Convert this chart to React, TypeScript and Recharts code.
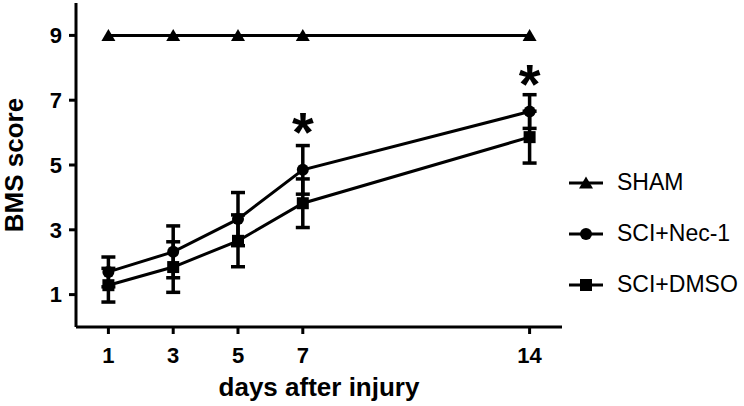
import { LineChart, Line, XAxis, YAxis, ErrorBar, Legend } from "recharts";

const days = [1, 3, 5, 7, 14];
const shamScores = [9, 9, 9, 9, 9];
const necScores = [1.7, 2.32, 3.33, 4.85, 6.65];
const necErrors = [0.46, 0.8, 0.82, 0.75, 0.52];
const dmsoScores = [1.29, 1.85, 2.66, 3.82, 5.86];
const dmsoErrors = [0.52, 0.78, 0.8, 0.75, 0.8];
// significance marks (* above the SCI groups)
const starLevels: (number | null)[] = [null, null, null, 6.42, 7.92];

const xTicks = [1, 3, 5, 7, 14];
const yTicks = [1, 3, 5, 7, 9];
const legendOrder = ["SHAM", "SCI+Nec-1", "SCI+DMSO"];

const FONT = "'Liberation Sans', Arial, sans-serif";

const data = days.map((day, i) => ({
  day,
  sham: shamScores[i],
  nec: necScores[i],
  necErr: necErrors[i],
  dmso: dmsoScores[i],
  dmsoErr: dmsoErrors[i],
  star: starLevels[i],
}));

function marker(kind: string, cx: number, cy: number, key?: string) {
  if (kind === "sham") {
    return (
      <polygon
        key={key}
        points={`${cx},${cy - 6.5} ${cx - 7},${cy + 5.5} ${cx + 7},${cy + 5.5}`}
        fill="#000"
      />
    );
  }
  if (kind === "nec") {
    return <circle key={key} cx={cx} cy={cy} r={6} fill="#000" />;
  }
  return <rect key={key} x={cx - 6} y={cy - 6} width={12} height={12} fill="#000" />;
}

const makeDot = (kind: string) => (props: any) => {
  const { cx, cy, index } = props;
  if (cx == null || cy == null) return <g key={`${kind}-${index}`} />;
  return marker(kind, cx, cy, `${kind}-${index}`);
};

const StarDot = (props: any) => {
  const { cx, cy, value, index } = props;
  if (value == null || cy == null) return <g key={`star-${index}`} />;
  const fs = 56;
  return (
    <text
      key={`star-${index}`}
      x={cx}
      y={cy + fs * 0.58}
      textAnchor="middle"
      fontSize={fs}
      fontWeight="bold"
      fontFamily={FONT}
      fill="#000"
    >
      *
    </text>
  );
};

function LegendContent(props: any) {
  const items = (props.payload || [])
    .filter((p: any) => p.type !== "none")
    .sort((a: any, b: any) => legendOrder.indexOf(a.value) - legendOrder.indexOf(b.value));
  return (
    <div style={{ width: 175 }}>
      {items.map((entry: any) => (
        <div
          key={entry.value}
          style={{ display: "flex", alignItems: "center", height: 51, width: 175 }}
        >
          <svg width={34} height={14} style={{ flexShrink: 0, display: "block" }}>
            <line x1={0} x2={34} y1={7} y2={7} stroke="#000" strokeWidth={3} />
            {marker(entry.dataKey, 17, 7)}
          </svg>
          <span
            style={{
              marginLeft: 14,
              fontSize: 23,
              fontFamily: FONT,
              color: "#000",
              whiteSpace: "nowrap",
            }}
          >
            {entry.value}
          </span>
        </div>
      ))}
    </div>
  );
}

const tickStyle = { fill: "#000", fontSize: 22, fontWeight: "bold", fontFamily: FONT };
const axisStroke = { stroke: "#000", strokeWidth: 3 };

export default function App() {
  return (
    <div style={{ position: "absolute", left: 0, top: 0, background: "#fff" }}>
      <LineChart
        width={744}
        height={406}
        data={data}
        margin={{ top: 3, right: 182, bottom: 0, left: 0 }}
      >
        <XAxis
          dataKey="day"
          type="number"
          domain={[0, 15]}
          ticks={xTicks}
          height={79}
          tick={tickStyle}
          tickLine={axisStroke}
          axisLine={axisStroke}
          tickSize={7}
          tickMargin={13}
          label={{
            value: "days after injury",
            position: "insideBottom",
            offset: 10,
            fontSize: 26,
            fontWeight: "bold",
            fontFamily: FONT,
            fill: "#000",
          }}
        />
        <YAxis
          type="number"
          domain={[0, 10]}
          ticks={yTicks}
          width={76}
          tick={tickStyle}
          tickLine={axisStroke}
          axisLine={axisStroke}
          tickSize={7}
          tickMargin={7}
          label={{
            value: "BMS score",
            angle: -90,
            position: "center",
            dx: -24,
            fontSize: 26,
            fontWeight: "bold",
            fontFamily: FONT,
            fill: "#000",
          }}
        />
        <Legend
          layout="horizontal"
          verticalAlign="middle"
          align="right"
          content={<LegendContent />}
          wrapperStyle={{
            position: "absolute",
            left: 569,
            top: 157,
            width: 0,
            height: 0,
            overflow: "visible",
          }}
        />
        <Line
          dataKey="sham"
          name="SHAM"
          stroke="#000"
          strokeWidth={3}
          dot={makeDot("sham")}
          activeDot={false}
          isAnimationActive={false}
        />
        <Line
          dataKey="nec"
          name="SCI+Nec-1"
          stroke="#000"
          strokeWidth={3}
          dot={makeDot("nec")}
          activeDot={false}
          isAnimationActive={false}
        >
          <ErrorBar dataKey="necErr" direction="y" width={7} strokeWidth={3.5} stroke="#000" />
        </Line>
        <Line
          dataKey="dmso"
          name="SCI+DMSO"
          stroke="#000"
          strokeWidth={3}
          dot={makeDot("dmso")}
          activeDot={false}
          isAnimationActive={false}
        >
          <ErrorBar dataKey="dmsoErr" direction="y" width={7} strokeWidth={3.5} stroke="#000" />
        </Line>
        <Line
          dataKey="star"
          stroke="none"
          legendType="none"
          dot={StarDot}
          activeDot={false}
          isAnimationActive={false}
        />
      </LineChart>
    </div>
  );
}
